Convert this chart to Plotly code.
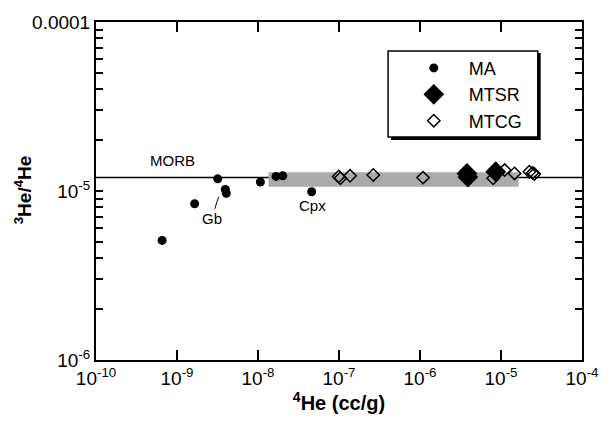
import plotly.graph_objects as go

# ---- data ----
ma_he4 = [6.55e-10, 1.65e-9, 3.18e-9, 3.95e-9, 4.06e-9, 1.07e-8, 1.67e-8, 2.02e-8, 4.6e-8]
ma_ratio = [5.1e-6, 8.4e-6, 1.18e-5, 1.02e-5, 9.7e-6, 1.13e-5, 1.22e-5, 1.23e-5, 9.9e-6]

mtsr_he4 = [3.8e-6, 3.9e-6, 8.6e-6]
mtsr_ratio = [1.27e-5, 1.21e-5, 1.3e-5]

mtcg_he4 = [9.9e-8, 1.04e-7, 1.37e-7, 2.65e-7, 1.09e-6, 8.0e-6, 1.11e-5, 1.47e-5, 2.24e-5, 2.45e-5, 2.58e-5]
mtcg_ratio = [1.22e-5, 1.19e-5, 1.23e-5, 1.245e-5, 1.2e-5, 1.19e-5, 1.33e-5, 1.27e-5, 1.3e-5, 1.28e-5, 1.26e-5]

morb_ratio = 1.2e-5
band_he4 = [1.35e-8, 1.65e-5]
band_ratio = [1.06e-5, 1.29e-5]

x_tickvals = [1e-10, 1e-9, 1e-8, 1e-7, 1e-6, 1e-5, 1e-4]
x_ticktext = ["10<sup>-10</sup>", "10<sup>-9</sup>", "10<sup>-8</sup>", "10<sup>-7</sup>",
              "10<sup>-6</sup>", "10<sup>-5</sup>", "10<sup>-4</sup>"]
y_labels = {1e-6: "10<sup>-6</sup>", 1e-5: "10<sup>-5</sup>", 1e-4: "0.0001"}
y_tickvals = [m * 10 ** e for e in (-6, -5) for m in range(1, 10)] + [1e-4]
y_ticktext = [next((t for k, t in y_labels.items() if abs(v - k) / k < 1e-9), "") for v in y_tickvals]

FONT = "Liberation Sans, Arial, Helvetica, sans-serif"

fig = go.Figure()

fig.add_trace(go.Scatter(x=ma_he4, y=ma_ratio, mode="markers", name="MA",
                         marker=dict(symbol="circle", size=9, color="black")))
fig.add_trace(go.Scatter(x=mtsr_he4, y=mtsr_ratio, mode="markers", name="MTSR",
                         marker=dict(symbol="diamond", size=16, color="black")))
fig.add_trace(go.Scatter(x=mtcg_he4, y=mtcg_ratio, mode="markers", name="MTCG",
                         marker=dict(symbol="diamond-open", size=9.5, color="black",
                                     line=dict(width=1.5, color="black"))))

# grey band and MORB line
fig.add_shape(type="rect", xref="x", yref="y", x0=band_he4[0], x1=band_he4[1],
              y0=band_ratio[0], y1=band_ratio[1], fillcolor="rgb(170,170,170)",
              line=dict(width=0), layer="below")
fig.add_shape(type="line", xref="paper", yref="y", x0=0, x1=1, y0=morb_ratio, y1=morb_ratio,
              line=dict(color="black", width=1.5), layer="below")

# legend box with shadow
fig.add_shape(type="rect", xref="paper", yref="paper", x0=0.607, x1=0.915, y0=0.651, y1=0.908,
              fillcolor="black", line=dict(width=0), layer="above")
fig.add_shape(type="rect", xref="paper", yref="paper", x0=0.601, x1=0.909, y0=0.66, y1=0.914,
              fillcolor="white", line=dict(width=1.5, color="black"), layer="above")

fig.add_annotation(x=-9.06, y=-4.82, xref="x", yref="y", text="MORB", showarrow=False,
                   font=dict(size=15, family=FONT, color="black"))
fig.add_annotation(x=-8.486, y=-5.034, xref="x", yref="y", text="Gb", showarrow=True,
                   arrowhead=0, arrowwidth=1, arrowcolor="black", ax=-7, ay=22, standoff=0,
                   font=dict(size=15, family=FONT, color="black"))
fig.add_annotation(x=-7.33, y=-5.087, xref="x", yref="y", text="Cpx", showarrow=False,
                   font=dict(size=15, family=FONT, color="black"))
# y-axis title
fig.add_annotation(x=-74 / 492.6, y=0.505, xref="paper", yref="paper",
                   xanchor="center", yanchor="middle",
                   text="<b><sup>3</sup>He/<sup>4</sup>He</b>", textangle=-90, showarrow=False,
                   font=dict(size=19, family=FONT, color="black"))

fig.update_xaxes(type="log", range=[-10, -4], tickvals=x_tickvals, ticktext=x_ticktext,
                 ticks="inside", ticklen=10, tickwidth=2, tickcolor="black",
                 showline=True, linewidth=2, linecolor="black", mirror="ticks",
                 showgrid=False, zeroline=False, layer="above traces",
                 tickfont=dict(size=19, family=FONT, color="black"),
                 title=dict(text="<b><sup>4</sup>He (cc/g)</b>", standoff=8,
                            font=dict(size=20, family=FONT, color="black")))
fig.update_yaxes(type="log", range=[-6, -4], tickvals=y_tickvals, ticktext=y_ticktext,
                 ticks="inside", ticklen=7, tickwidth=2, tickcolor="black",
                 showline=True, linewidth=2, linecolor="black", mirror="ticks",
                 showgrid=False, zeroline=False, layer="above traces",
                 tickfont=dict(size=19, family=FONT, color="black"))

fig.update_layout(
    width=610, height=423,
    margin=dict(l=96, r=22, t=21, b=61),
    plot_bgcolor="white", paper_bgcolor="white",
    font=dict(family=FONT, color="black"),
    legend=dict(x=0.623, y=0.918, xanchor="left", yanchor="top", bgcolor="rgba(0,0,0,0)",
                borderwidth=0, itemwidth=60, font=dict(size=18, family=FONT, color="black"),
                itemsizing="trace"),
    showlegend=True,
)

fig.write_html("out.html")
